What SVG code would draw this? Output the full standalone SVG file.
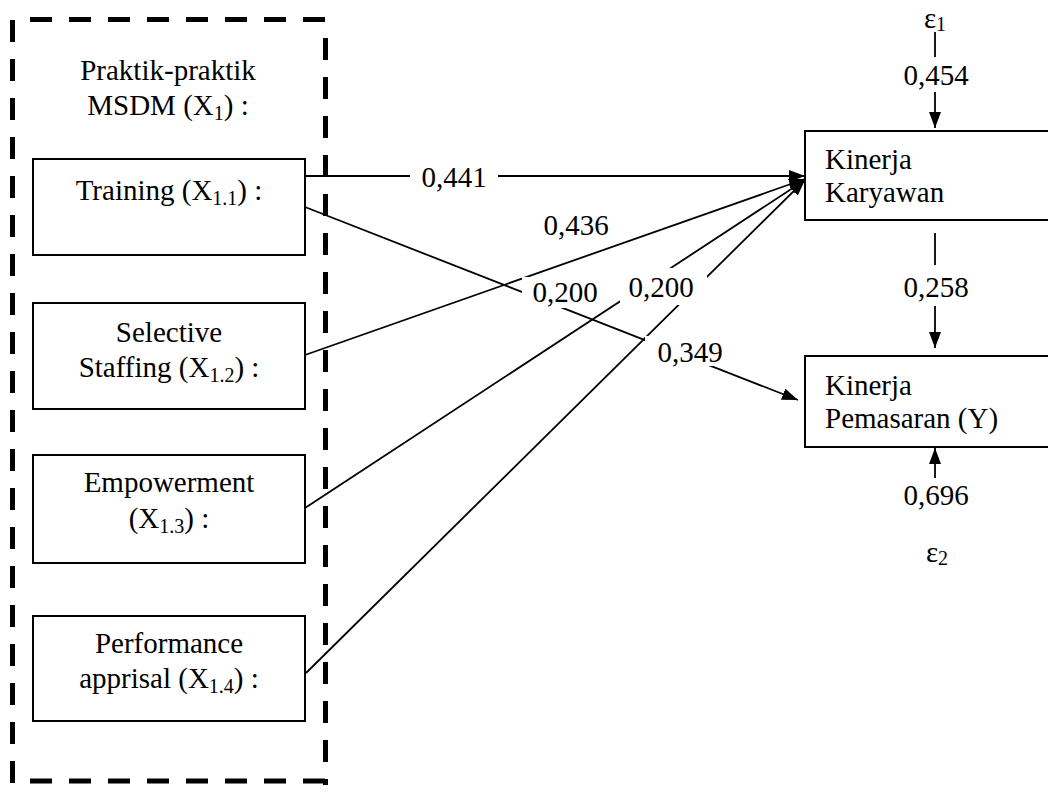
<svg xmlns="http://www.w3.org/2000/svg" width="1048" height="792" viewBox="0 0 1048 792" font-family="'Liberation Serif', 'Times New Roman', 'DejaVu Serif', serif">
<style>
text{font-family:'Liberation Serif','Times New Roman','DejaVu Serif',serif;font-size:29px;fill:#000}
.c{text-anchor:middle}
.sub{font-size:20px}
.box{fill:#fff;stroke:#000;stroke-width:2}
.dash{fill:none;stroke:#000;stroke-width:5;stroke-dasharray:22 17}
.ln{fill:none;stroke:#000;stroke-width:1.8}
.bg{fill:#fff;stroke:none}
</style>
<defs>
<marker id="ah" viewBox="0 0 16 12" refX="16" refY="6" markerWidth="16" markerHeight="12" markerUnits="userSpaceOnUse" orient="auto">
<path d="M0,0 L16,6 L0,12 Z" fill="#000"/>
</marker>
</defs>
<rect width="1048" height="792" fill="#fff"/>

<g id="msdm-group">
<path class="dash" d="M30,19.5 H330"/>
<path class="dash" d="M325.5,38 V785"/>
<path class="dash" d="M30,781 H330"/>
<path class="dash" d="M12.5,20 V785"/>
<text class="c" x="168" y="80">Praktik-praktik</text>
<text class="c" x="168" y="115">MSDM (X<tspan class="sub" dy="5">1</tspan><tspan dy="-5">) :</tspan></text>
</g>

<g id="training">
<rect class="box" x="33" y="159" width="272" height="96"/>
<text class="c" x="169" y="200">Training (X<tspan class="sub" dy="5">1.1</tspan><tspan dy="-5">) :</tspan></text>
</g>

<g id="selective-staffing">
<rect class="box" x="33" y="303" width="272" height="106"/>
<text class="c" x="169" y="342">Selective</text>
<text class="c" x="169" y="377">Staffing (X<tspan class="sub" dy="5">1.2</tspan><tspan dy="-5">) :</tspan></text>
</g>

<g id="empowerment">
<rect class="box" x="33" y="455" width="272" height="108"/>
<text class="c" x="169" y="492">Empowerment</text>
<text class="c" x="169" y="528">(X<tspan class="sub" dy="5">1.3</tspan><tspan dy="-5">) :</tspan></text>
</g>

<g id="performance-apprisal">
<rect class="box" x="33" y="616" width="272" height="105"/>
<text class="c" x="169" y="653">Performance</text>
<text class="c" x="169" y="688">apprisal (X<tspan class="sub" dy="5">1.4</tspan><tspan dy="-5">) :</tspan></text>
</g>

<g id="kinerja-karyawan">
<rect class="box" x="805" y="131" width="250" height="89"/>
<text x="825" y="169">Kinerja</text>
<text x="825" y="202">Karyawan</text>
</g>

<g id="kinerja-pemasaran">
<rect class="box" x="805" y="356" width="250" height="91"/>
<text x="825" y="395">Kinerja</text>
<text x="825" y="428">Pemasaran (Y)</text>
</g>

<g id="e1">
<text class="c" x="935" y="28">ε<tspan class="sub" dy="3">1</tspan></text>
</g>

<g id="e2">
<text class="c" x="937" y="562">ε<tspan class="sub" dy="3">2</tspan></text>
</g>

<g id="connectors">
<path class="ln" d="M305,176 H805" marker-end="url(#ah)"/>
<path class="ln" d="M305,207 L798,400" marker-end="url(#ah)"/>
<path class="ln" d="M305,355 L805,179" marker-end="url(#ah)"/>
<path class="ln" d="M305,508 L805,180" marker-end="url(#ah)"/>
<path class="ln" d="M306,673 L805,180" marker-end="url(#ah)"/>
<path class="ln" d="M935,32 V57"/>
<path class="ln" d="M935,92 V128" marker-end="url(#ah)"/>
<path class="ln" d="M935,233 V265"/>
<path class="ln" d="M935,306 V348" marker-end="url(#ah)"/>
<path class="ln" d="M935,478 V448" marker-end="url(#ah)"/>
</g>

<g id="labels">
<rect class="bg" x="410" y="163" width="88" height="28"/>
<text class="c" x="454" y="187">0,441</text>
<text class="c" x="576" y="235">0,436</text>
<rect class="bg" x="522" y="277" width="80" height="31"/>
<text class="c" x="565" y="302">0,200</text>
<rect class="bg" x="620" y="268" width="87" height="37"/>
<text class="c" x="661" y="297">0,200</text>
<rect class="bg" x="645" y="336" width="72" height="30"/>
<text class="c" x="690" y="362">0,349</text>
<text class="c" x="936" y="85">0,454</text>
<text class="c" x="936" y="297">0,258</text>
<text class="c" x="936" y="505">0,696</text>
</g>
</svg>
